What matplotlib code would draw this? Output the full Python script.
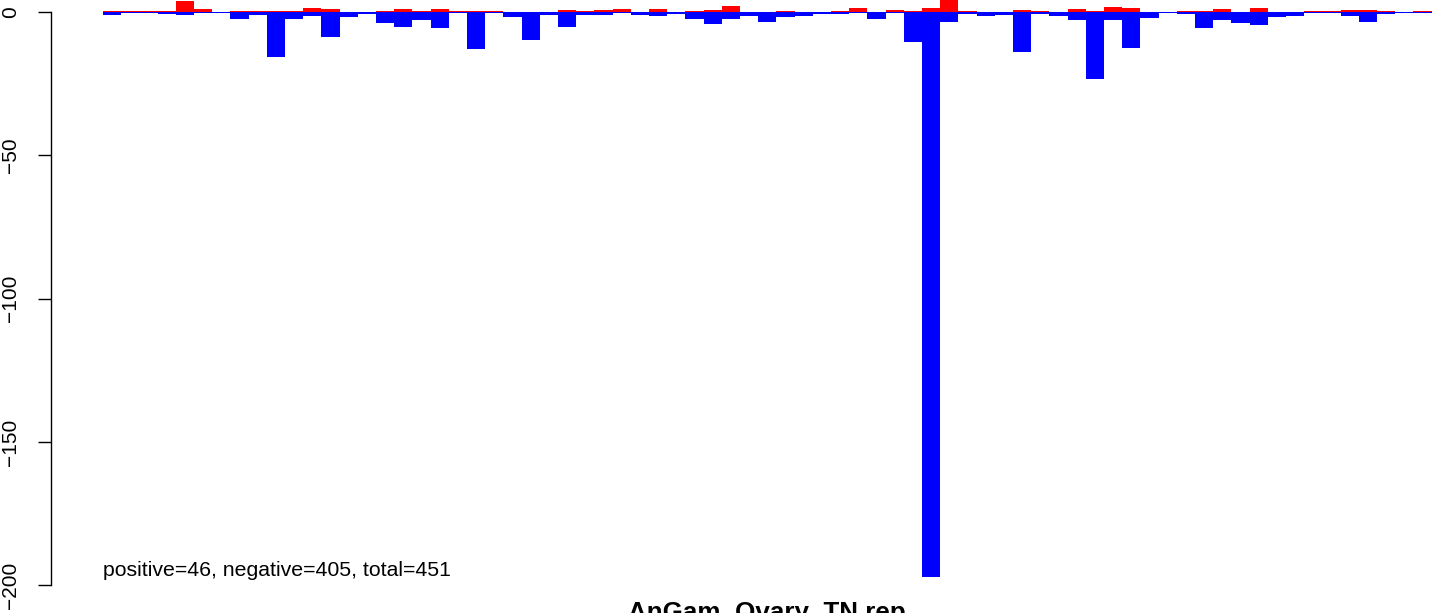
import matplotlib
matplotlib.use("Agg")
import matplotlib.pyplot as plt
import numpy as np

# per-bin counts
pos = [0.3, 0.2, 0.2, 0.3, 3.8, 1.0, 0.1, 0.3, 0.3, 0.3,
       0.3, 1.4, 1.0, 0.1, 0.1, 0.3, 1.0, 0.3, 1.0, 0.3,
       0.3, 0.3, 0.1, 0.1, 0.1, 0.7, 0.3, 0.7, 1.0, 0.1,
       1.0, 0.1, 0.3, 0.7, 2.1, 0.1, 0.1, 0.3, 0.1, 0.1,
       0.3, 1.4, 0.1, 0.7, 0.3, 1.4, 4.6, 0.3, 0.1, 0.1,
       0.7, 0.3, 0.1, 1.0, 0.3, 1.7, 1.4, 0.1, 0.1, 0.3,
       0.3, 1.0, 0.1, 1.4, 0.1, 0.1, 0.3, 0.3, 0.7, 0.7,
       0.3, 0.1, 0.3]
neg = [-1.0, -0.3, -0.35, -0.7, -1.0, -0.3, -0.2, -2.4, -1.0, -15.7,
       -2.4, -1.4, -8.7, -1.7, -0.7, -3.8, -5.2, -2.8, -5.6, -0.35,
       -12.9, -0.35, -1.7, -9.8, -1.0, -5.2, -1.0, -1.0, -0.5, -1.0,
       -1.4, -0.6, -2.4, -4.2, -2.4, -1.4, -3.5, -1.7, -1.4, -0.6,
       -0.6, -0.2, -2.4, -0.3, -10.5, -197.0, -3.5, -0.6, -1.4, -1.0,
       -14.0, -0.6, -1.4, -2.8, -23.4, -2.8, -12.6, -2.1, -0.3, -0.6,
       -5.6, -2.8, -3.8, -4.5, -1.7, -1.4, -0.3, -0.3, -1.4, -3.5,
       -0.6, -0.3, -0.3]
yticks = [0, -50, -100, -150, -200]
note = "positive=46, negative=405, total=451"
title = "AnGam_Ovary_TN rep"

W, H = 1444, 613
fig = plt.figure(figsize=(W / 100, H / 100), dpi=100)
plt.rcParams['font.family'] = ['Liberation Sans', 'DejaVu Sans']

ax = fig.add_axes([51 / W, 0, (W - 51) / W, 1])
x = np.arange(len(pos))
ax.bar(x, pos, width=1.0, align='edge', color='red', linewidth=0)
ax.bar(x, neg, width=1.0, align='edge', color='blue', linewidth=0)

ax.set_xlim((51 - 103) / 18.2, (W - 103) / 18.2)
ax.set_ylim((12 - H) / 2.866, 12 / 2.866)

for s in ['top', 'right', 'bottom']:
    ax.spines[s].set_visible(False)
ax.spines['left'].set_bounds(-200, 0)
ax.spines['left'].set_linewidth(1.0)
ax.set_xticks([])
ax.set_yticks(yticks)
ax.set_yticklabels([str(t).replace('-', '\u2212') for t in yticks],
                   rotation=90, va='center', fontsize=15)
ax.tick_params(axis='y', length=9.4, width=1.0, pad=13)

ax.text(0, -194.7, note, fontsize=15.3, va='center', ha='left')
fig.text(767 / W, 1 - 601 / H, title, fontsize=18.7, fontweight='bold',
         ha='center', va='top')

fig.savefig("out.png", dpi=100)
